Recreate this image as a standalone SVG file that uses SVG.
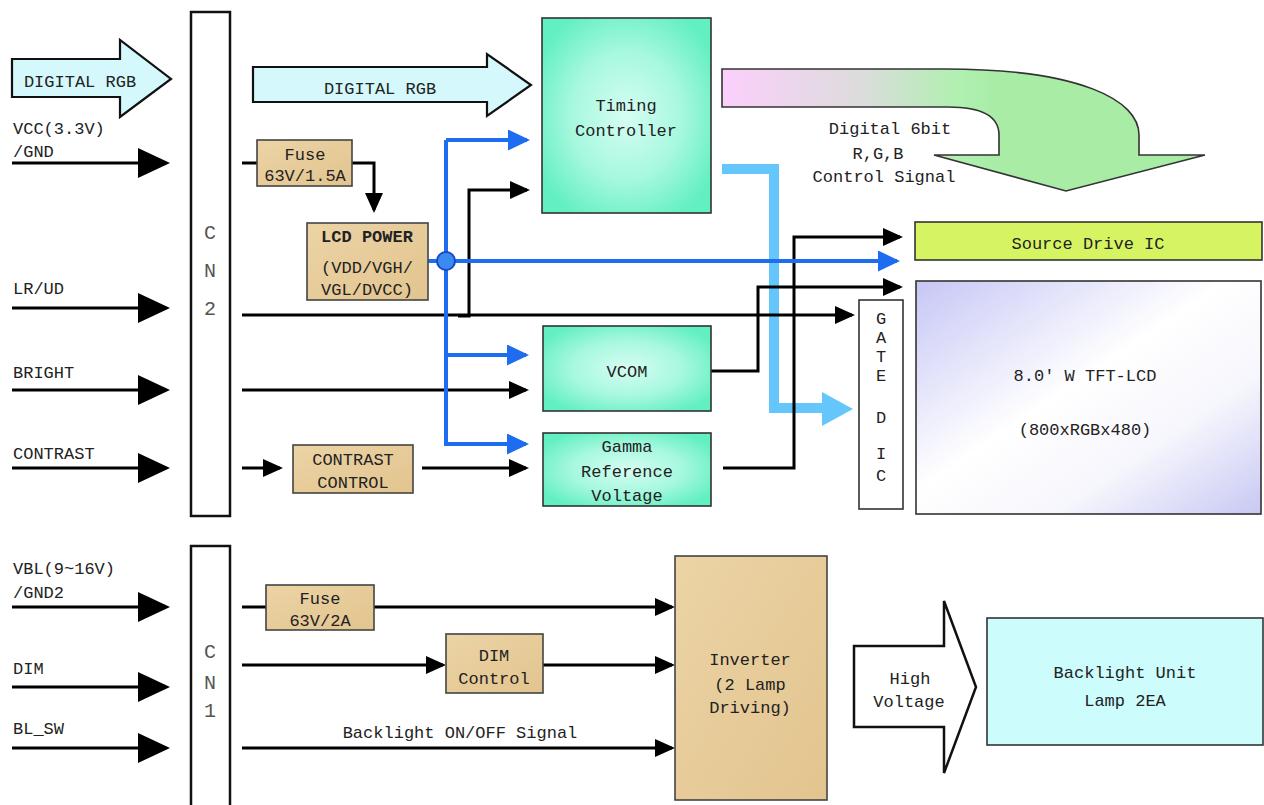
<svg xmlns="http://www.w3.org/2000/svg" width="1264" height="805" viewBox="0 0 1264 805">
<style>
.t{font-family:"Liberation Mono","DejaVu Sans Mono",monospace;font-size:17px;fill:#222}
.m{text-anchor:middle}
.b{font-weight:bold}
.cn{font-family:"Liberation Mono","DejaVu Sans Mono",monospace;font-size:20px;fill:#555;text-anchor:middle}
.box{stroke:#333;stroke-width:1.6}
.tan{fill:url(#tan);stroke:#444;stroke-width:1.6}
.aq{fill:url(#aqua);stroke:#333;stroke-width:1.6}
.k{fill:none;stroke:#000;stroke-width:3}
.bl{fill:none;stroke:#1e6cf0;stroke-width:4}
</style>
<defs>
<marker id="big" markerUnits="userSpaceOnUse" markerWidth="32" markerHeight="30" refX="28" refY="15" orient="auto"><path d="M0,0 L32,15 L0,30 Z" fill="#000"/></marker>
<marker id="sm" markerUnits="userSpaceOnUse" markerWidth="20" markerHeight="18" refX="17" refY="9" orient="auto"><path d="M0,0 L20,9 L0,18 Z" fill="#000"/></marker>
<marker id="smb" markerUnits="userSpaceOnUse" markerWidth="22" markerHeight="21" refX="19" refY="10.5" orient="auto"><path d="M0,0 L22,10.5 L0,21 Z" fill="#1e6cf0"/></marker>
<radialGradient id="aqua" cx="0.5" cy="0.5" r="0.6">
<stop offset="0" stop-color="#d6fdf2"/><stop offset="0.55" stop-color="#a6f8de"/><stop offset="1" stop-color="#62efc2"/>
</radialGradient>
<linearGradient id="tan" x1="0" y1="0" x2="1" y2="1">
<stop offset="0" stop-color="#ecd4a6"/><stop offset="1" stop-color="#e2c48e"/>
</linearGradient>
<linearGradient id="lcd" x1="0" y1="0" x2="1" y2="1">
<stop offset="0" stop-color="#c6c6f6"/><stop offset="0.45" stop-color="#ffffff"/><stop offset="0.7" stop-color="#f6f6fd"/><stop offset="1" stop-color="#c8c8f4"/>
</linearGradient>
<linearGradient id="pg" gradientUnits="userSpaceOnUse" x1="722" y1="0" x2="1000" y2="0">
<stop offset="0" stop-color="#fccffc"/><stop offset="0.5" stop-color="#dcdcdc"/><stop offset="0.85" stop-color="#b0f0b0"/><stop offset="1" stop-color="#a8eca6"/>
</linearGradient>
</defs>

<!-- Left input arrows and labels -->
<g id="inputs">
<text class="t" x="13" y="134">VCC(3.3V)</text>
<text class="t" x="13" y="157">/GND</text>
<text class="t" x="13" y="294">LR/UD</text>
<text class="t" x="13" y="378">BRIGHT</text>
<text class="t" x="13" y="459">CONTRAST</text>
<text class="t" x="13" y="574">VBL(9~16V)</text>
<text class="t" x="13" y="598">/GND2</text>
<text class="t" x="13" y="674">DIM</text>
<text class="t" x="13" y="734">BL_SW</text>
</g>

<g id="rgb-in">
<polygon points="12,59 120,59 120,40 171,79 120,117 120,97 12,97" fill="#d4f8fc" stroke="#111" stroke-width="2.2"/>
<text class="t m" x="80" y="87">DIGITAL RGB</text>
</g>

<g id="cn2">
<rect x="191" y="12" width="39" height="504" fill="#fff" stroke="#111" stroke-width="2.5"/>
<text class="cn" x="210" y="239">C</text>
<text class="cn" x="210" y="277">N</text>
<text class="cn" x="210" y="315">2</text>
</g>

<g id="cn1">
<rect x="191" y="546" width="39" height="270" fill="#fff" stroke="#111" stroke-width="2.5"/>
<text class="cn" x="210" y="658">C</text>
<text class="cn" x="210" y="689">N</text>
<text class="cn" x="210" y="717">1</text>
</g>

<g id="rgb-mid">
<polygon points="253,67 487,67 487,54 531,85 487,116 487,102 253,102" fill="#d4f8fc" stroke="#111" stroke-width="2.2"/>
<text class="t m" x="380" y="94">DIGITAL RGB</text>
</g>

<g id="timing">
<rect class="aq" x="542" y="18" width="169" height="195"/>
<text class="t m" x="626" y="111">Timing</text>
<text class="t m" x="626" y="136">Controller</text>
</g>

<g id="rgb-out">
<path d="M722,69 H945 C1080,69 1139,100 1139,135 V155 H1205 L1066,191 L934,155 H999 V135 C999,118 985,107 948,107 H722 Z" fill="url(#pg)" stroke="#333" stroke-width="1.6"/>
<text class="t m" x="890" y="134">Digital 6bit</text>
<text class="t m" x="878" y="159">R,G,B</text>
<text class="t m" x="884" y="182">Control Signal</text>
</g>

<!-- Connectors -->
<g id="connectors">
<path d="M722,169 H774 V408 H824" fill="none" stroke="#64c6fa" stroke-width="10"/>
<polygon points="822,392 853,409 822,426" fill="#64c6fa"/>

<path class="k" d="M12,163 H166" marker-end="url(#big)"/>
<path class="k" d="M12,308 H166" marker-end="url(#big)"/>
<path class="k" d="M12,390 H166" marker-end="url(#big)"/>
<path class="k" d="M12,468 H166" marker-end="url(#big)"/>
<path class="k" d="M12,607 H166" marker-end="url(#big)"/>
<path class="k" d="M12,687 H166" marker-end="url(#big)"/>
<path class="k" d="M12,748 H166" marker-end="url(#big)"/>

<path class="k" d="M242,163 H257"/>
<path class="k" d="M352,163 H374 V210" marker-end="url(#sm)"/>
<path class="k" d="M242,315 H852" marker-end="url(#sm)"/>
<path class="k" d="M458,316 H469 V190 H527" marker-end="url(#sm)"/>
<path class="k" d="M242,390 H526" marker-end="url(#sm)"/>
<path class="k" d="M242,468 H280" marker-end="url(#sm)"/>
<path class="k" d="M422,468 H526" marker-end="url(#sm)"/>
<path class="k" d="M711,371 H758 V287 H900" marker-end="url(#sm)"/>
<path class="k" d="M723,468 H794 V237 H900" marker-end="url(#sm)"/>

<path class="k" d="M242,607 H266"/>
<path class="k" d="M374,607 H672" marker-end="url(#sm)"/>
<path class="k" d="M242,665 H443" marker-end="url(#sm)"/>
<path class="k" d="M543,665 H672" marker-end="url(#sm)"/>
<path class="k" d="M242,748 H672" marker-end="url(#sm)"/>

<path class="bl" d="M446,140 H527" marker-end="url(#smb)"/>
<path class="bl" d="M446,140 V444 H526" marker-end="url(#smb)"/>
<path class="bl" d="M446,355 H526" marker-end="url(#smb)"/>
<path class="bl" d="M428,261 H897" marker-end="url(#smb)"/>
<circle cx="446" cy="261" r="9" fill="#3a8af2" stroke="#1a4cc0" stroke-width="2"/>
<text class="t m" x="460" y="738">Backlight ON/OFF Signal</text>
</g>

<g id="fuse1">
<rect class="tan" x="257" y="140" width="95" height="46"/>
<text class="t m" x="305" y="160">Fuse</text>
<text class="t m" x="305" y="181">63V/1.5A</text>
</g>

<g id="lcdpower">
<rect class="tan" x="307" y="223" width="121" height="77"/>
<text class="t m b" x="367" y="242">LCD POWER</text>
<text class="t m" x="367" y="273">(VDD/VGH/</text>
<text class="t m" x="367" y="295">VGL/DVCC)</text>
</g>

<g id="contrast">
<rect class="tan" x="293" y="445" width="120" height="48"/>
<text class="t m" x="353" y="465">CONTRAST</text>
<text class="t m" x="353" y="488">CONTROL</text>
</g>

<g id="vcom">
<rect class="aq" x="543" y="326" width="168" height="85"/>
<text class="t m" x="627" y="377">VCOM</text>
</g>

<g id="gamma">
<rect class="aq" x="543" y="433" width="168" height="73"/>
<text class="t m" x="627" y="452">Gamma</text>
<text class="t m" x="627" y="477">Reference</text>
<text class="t m" x="627" y="501">Voltage</text>
</g>

<g id="source">
<rect class="box" x="915" y="222" width="347" height="38" fill="#d6f462"/>
<text class="t m" x="1088" y="249">Source Drive IC</text>
</g>

<g id="gate">
<rect class="box" x="859" y="300" width="44" height="209" fill="#fff"/>
<text class="t m" x="881" y="324">G</text>
<text class="t m" x="881" y="343">A</text>
<text class="t m" x="881" y="362">T</text>
<text class="t m" x="881" y="381">E</text>
<text class="t m" x="881" y="423">D</text>
<text class="t m" x="881" y="459">I</text>
<text class="t m" x="881" y="481">C</text>
</g>

<g id="lcd">
<rect class="box" x="916" y="281" width="345" height="233" fill="url(#lcd)"/>
<text class="t m" x="1085" y="381">8.0' W TFT-LCD</text>
<text class="t m" x="1085" y="435">(800xRGBx480)</text>
</g>

<g id="fuse2">
<rect class="tan" x="266" y="585" width="108" height="45"/>
<text class="t m" x="320" y="604">Fuse</text>
<text class="t m" x="320" y="626">63V/2A</text>
</g>

<g id="dim">
<rect class="tan" x="446" y="634" width="97" height="59"/>
<text class="t m" x="494" y="661">DIM</text>
<text class="t m" x="494" y="684">Control</text>
</g>

<g id="inverter">
<rect class="tan" x="675" y="556" width="152" height="244"/>
<text class="t m" x="750" y="665">Inverter</text>
<text class="t m" x="750" y="690">(2 Lamp</text>
<text class="t m" x="750" y="713">Driving)</text>
</g>

<g id="hv">
<polygon points="854,646 944,646 944,601 976,687 944,773 944,727 854,727" fill="#fff" stroke="#111" stroke-width="2.5"/>
<text class="t m" x="910" y="684">High</text>
<text class="t m" x="909" y="707">Voltage</text>
</g>

<g id="backlight">
<rect class="box" x="987" y="618" width="276" height="127" fill="#ccfcfc"/>
<text class="t m" x="1125" y="678">Backlight Unit</text>
<text class="t m" x="1125" y="706">Lamp 2EA</text>
</g>
</svg>
